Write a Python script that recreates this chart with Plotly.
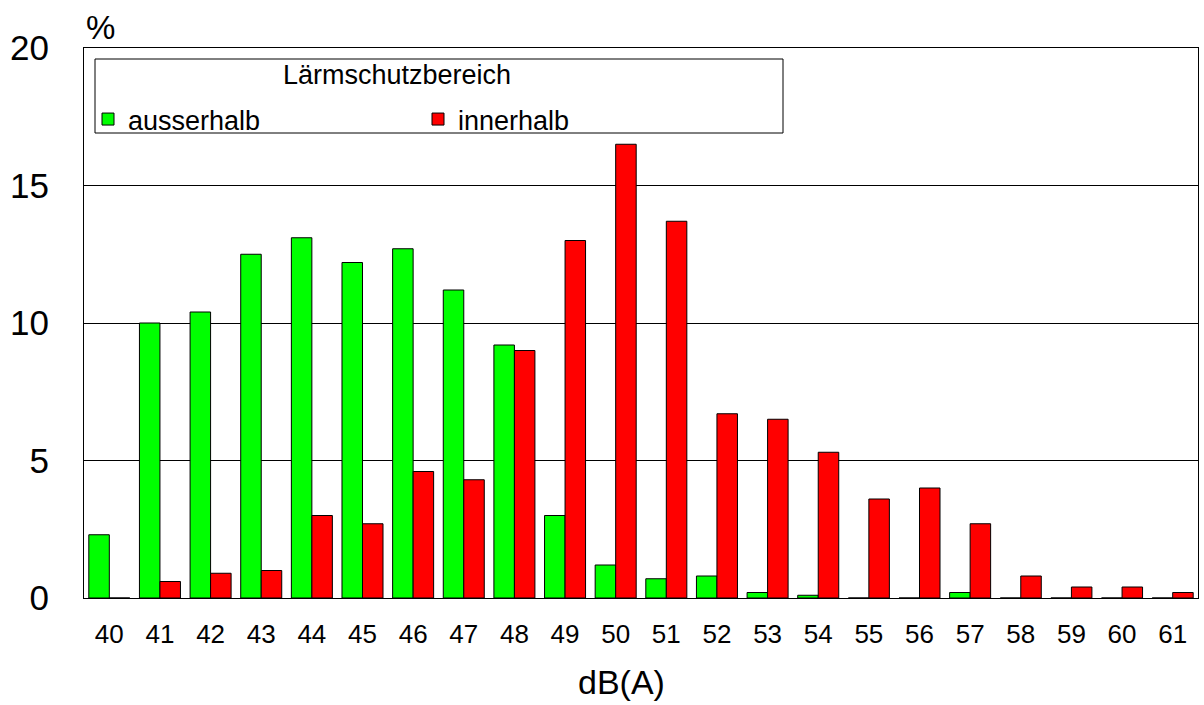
import plotly.graph_objects as go

categories = [str(v) for v in range(40, 62)]
ausserhalb = [2.3, 10.0, 10.4, 12.5, 13.1, 12.2, 12.7, 11.2, 9.2, 3.0, 1.2, 0.7,
              0.8, 0.2, 0.1, 0.0, 0.0, 0.2, 0.0, 0.0, 0.0, 0.0]
innerhalb = [0.0, 0.6, 0.9, 1.0, 3.0, 2.7, 4.6, 4.3, 9.0, 13.0, 16.5, 13.7,
             6.7, 6.5, 5.3, 3.6, 4.0, 2.7, 0.8, 0.4, 0.4, 0.2]
y_ticks = [0, 5, 10, 15, 20]

FONT = "Liberation Sans, Arial, sans-serif"

W, H = 1204, 705
L, R, T, B = 84, 6, 48, 107
PW, PH = W - L - R, H - T - B


def px_x(px):
    return (px - L) / PW


def px_y(py):
    return (H - B - py) / PH


fig = go.Figure()
fig.add_trace(go.Bar(x=categories, y=ausserhalb, name="ausserhalb",
                     marker=dict(color="#00FF00", line=dict(color="black", width=1))))
fig.add_trace(go.Bar(x=categories, y=innerhalb, name="innerhalb",
                     marker=dict(color="#FF0000", line=dict(color="black", width=1))))

fig.update_layout(
    width=W, height=H,
    margin=dict(l=L, r=R, t=T, b=B, autoexpand=False),
    paper_bgcolor="white", plot_bgcolor="white",
    font=dict(family=FONT, color="black"),
    barmode="group", bargap=0.19, bargroupgap=0,
    showlegend=True,
    legend=dict(
        orientation="h", x=px_x(88), y=px_y(95), xanchor="left", yanchor="top",
        bgcolor="rgba(0,0,0,0)", borderwidth=0,
        font=dict(size=27, family=FONT),
        entrywidth=285, entrywidthmode="pixels",
        traceorder="normal",
    ),
    xaxis=dict(
        type="category", showline=True, linecolor="black", linewidth=1, mirror=True,
        showgrid=False, tickfont=dict(size=26, family=FONT), ticks="",
        ticklabelstandoff=13, automargin=False,
    ),
    yaxis=dict(
        range=[0, 20], tickvals=y_ticks, showline=True, linecolor="black", linewidth=1,
        mirror=True, showgrid=True, gridcolor="black", gridwidth=1, zeroline=False,
        tickfont=dict(size=35, family=FONT), ticks="", ticklabelstandoff=27,
        automargin=False,
    ),
    shapes=[
        dict(type="rect", xref="paper", yref="paper",
             x0=px_x(95), x1=px_x(783), y0=px_y(133), y1=px_y(59),
             line=dict(color="black", width=1), fillcolor="white", layer="above"),
    ],
    annotations=[
        dict(text="Lärmschutzbereich", xref="paper", yref="paper", x=px_x(397), y=px_y(75),
             xanchor="center", yanchor="middle", showarrow=False,
             font=dict(size=27, family=FONT)),
        dict(text="%", xref="paper", yref="paper", x=0.0, y=px_y(28), xanchor="left",
             yanchor="middle", showarrow=False, font=dict(size=33, family=FONT)),
        dict(text="dB(A)", xref="paper", yref="paper", x=px_x(621), y=px_y(682),
             xanchor="center", yanchor="middle", showarrow=False,
             font=dict(size=34, family=FONT)),
    ],
)

fig.write_html("out.html", config={"displayModeBar": False},
               post_script="document.body.style.margin='0px';")
